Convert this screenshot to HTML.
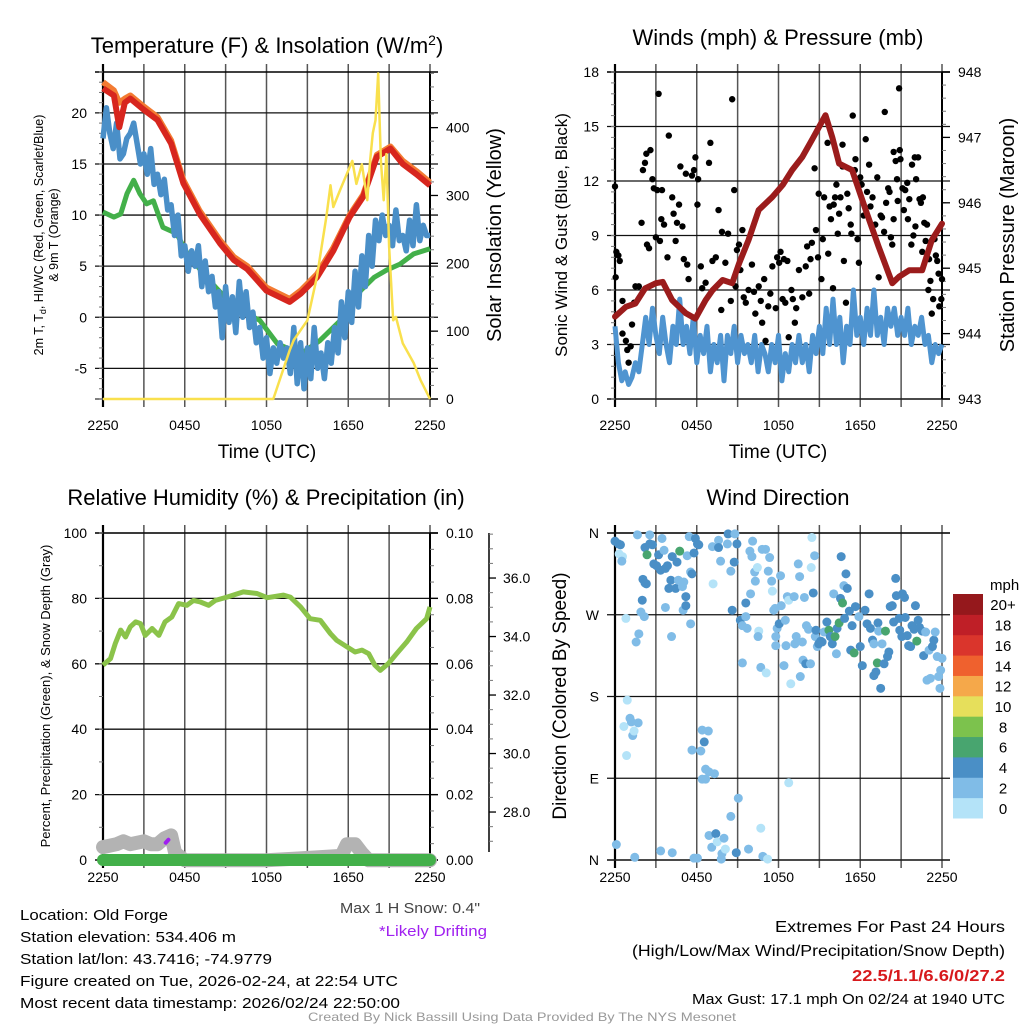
<!DOCTYPE html>
<html><head><meta charset="utf-8"><style>
html,body{margin:0;padding:0;background:#fff}
svg{display:block;font-family:"Liberation Sans",Arial,sans-serif}
</style></head><body>
<svg id="fig" width="1024" height="1024" viewBox="0 0 1024 1024" xmlns="http://www.w3.org/2000/svg">
<rect x="0" y="0" width="1024" height="1024" fill="#fff"/>
<g id="layer"></g>
<text x="267" y="53" font-size="22" text-anchor="middle">Temperature (F) &amp; Insolation (W/m<tspan dy="-8" font-size="14">2</tspan><tspan dy="8">)</tspan></text>
<text x="778" y="45" font-size="22" text-anchor="middle">Winds (mph) &amp; Pressure (mb)</text>
<text x="266" y="505" font-size="22" text-anchor="middle">Relative Humidity (%) &amp; Precipitation (in)</text>
<text x="778" y="505" font-size="22" text-anchor="middle">Wind Direction</text>

<text x="267" y="458" font-size="19" text-anchor="middle">Time (UTC)</text>
<text x="778" y="458" font-size="19" text-anchor="middle">Time (UTC)</text>

<text transform="translate(43,235) rotate(-90)" font-size="12.5" text-anchor="middle">2m T, T<tspan font-size="9" dy="3">d</tspan><tspan dy="-3">, HI/WC (Red, Green, Scarlet/Blue)</tspan></text>
<text transform="translate(58,235) rotate(-90)" font-size="12.5" text-anchor="middle">&amp; 9m T (Orange)</text>
<text transform="translate(501,235) rotate(-90)" font-size="20" text-anchor="middle">Solar Insolation (Yellow)</text>
<text transform="translate(567,235) rotate(-90)" font-size="17" text-anchor="middle">Sonic Wind &amp; Gust (Blue, Black)</text>
<text transform="translate(1014,235) rotate(-90)" font-size="20" text-anchor="middle">Station Pressure (Maroon)</text>
<text transform="translate(50,696) rotate(-90)" font-size="13" text-anchor="middle">Percent, Precipitation (Green), &amp; Snow Depth (Gray)</text>
<text transform="translate(566,696) rotate(-90)" font-size="19" text-anchor="middle">Direction (Colored By Speed)</text>

<text x="990" y="590" font-size="15">mph</text>

<g font-size="15">
<text x="20" y="920" textLength="148" lengthAdjust="spacingAndGlyphs">Location: Old Forge</text>
<text x="20" y="942" textLength="216" lengthAdjust="spacingAndGlyphs">Station elevation: 534.406 m</text>
<text x="20" y="964" textLength="252" lengthAdjust="spacingAndGlyphs">Station lat/lon: 43.7416; -74.9779</text>
<text x="20" y="986" textLength="378" lengthAdjust="spacingAndGlyphs">Figure created on Tue, 2026-02-24, at 22:54 UTC</text>
<text x="20" y="1008" textLength="380" lengthAdjust="spacingAndGlyphs">Most recent data timestamp: 2026/02/24 22:50:00</text>
<text x="480" y="913" text-anchor="end" fill="#444" textLength="140" lengthAdjust="spacingAndGlyphs">Max 1 H Snow: 0.4"</text>
<text x="487" y="936" text-anchor="end" fill="#a020f0" textLength="108" lengthAdjust="spacingAndGlyphs">*Likely Drifting</text>
<text x="1005" y="932" text-anchor="end" font-size="16" textLength="230" lengthAdjust="spacingAndGlyphs">Extremes For Past 24 Hours</text>
<text x="1005" y="956" text-anchor="end" font-size="16" textLength="373" lengthAdjust="spacingAndGlyphs">(High/Low/Max Wind/Precipitation/Snow Depth)</text>
<text x="1005" y="981" text-anchor="end" font-size="16" font-weight="bold" fill="#d7191c" textLength="153" lengthAdjust="spacingAndGlyphs">22.5/1.1/6.6/0/27.2</text>
<text x="1005" y="1004" text-anchor="end" textLength="313" lengthAdjust="spacingAndGlyphs">Max Gust: 17.1 mph On 02/24 at 1940 UTC</text>
<text x="308" y="1021" font-size="12" fill="#999" textLength="428" lengthAdjust="spacingAndGlyphs">Created By Nick Bassill Using Data Provided By The NYS Mesonet</text>
</g>
</svg>
<script>
// ---------- DATA ----------
const xTickLabels = ["2250","0450","1050","1650","2250"];
const tempTicks = [-5,0,5,10,15,20];
const insolTicks = [0,100,200,300,400];
const windTicks = [0,3,6,9,12,15,18];
const presTicks = [943,944,945,946,947,948];
const rhTicks = [0,20,40,60,80,100];
const precipTicks = ["0.00","0.02","0.04","0.06","0.08","0.10"];
const snowTicks = ["28.0","30.0","32.0","34.0","36.0"];
const dirTicks = ["N","E","S","W","N"];

const redHours = [0,0.8,1.2,1.6,2,3,4,5,5.9,7.1,8.6,9.6,10.6,12,13.7,14.5,15.7,16.9,18.1,19.1,20.1,21.1,22,23,24];
const redTemp = [22.4,21.7,18.6,21,21.4,20.3,19.3,17,13.1,10.1,7.2,5.6,4.7,2.6,1.5,2.3,3.9,6.5,9.8,11.8,15.7,16.5,15,14,12.9];
const orangeTemp = [23,22.2,21,21.4,21.7,20.6,19.6,17.3,13.4,10.4,7.5,5.9,5,2.9,1.8,2.6,4.2,6.8,10,12,15.9,16.7,15.3,14.3,13.2];
const greenHours = [0,0.8,1.3,1.76,2.25,2.7,3.2,3.7,4.4,5.4,6.2,7.6,9.6,11.5,12.8,14.5,15.9,17.9,18.9,19.9,20.8,21.8,22.8,24];
const greenTemp = [10.3,9.8,10.1,12.1,13.4,12.1,11.1,11.4,8.8,8.2,6.2,3.9,1,-0.3,-2.6,-3.6,-2.3,0.3,2.6,3.9,4.6,5.2,6.2,6.7];
const blueTemp = [17.5,20.5,18,16.5,19,15.5,16,17.5,
 18,19,17,15, 16,14,16.5,13, 14,12,13.5,10.5, 11,8,10,6, 7,4.5,6.5,5, 7,3,5.5,2.5, 4,1,2.5,-2, 3,-0.5,2,-1.5,
 3.5,0,2.5,-1, 0.5,-2.5,-1,-4, -2,-5.5,-3,-4.5, -2.5,-4,-3,-5.5, -1,-6.5,-2.5,-7, -3,-6,-1,-5, -3.5,-6,-2.5,-4.5,
 -1,-3.5,1.5,-2, 2.5,-0.5,4.5,1, 6,3,8,5, 9.5,7.5,10,8, 9,7,10.5,7.5, 8,6.5,9.5,7, 11,7.5,9,8, 8];
const insolHours = [0,12.5,13.7,14,15,15.7,16.4,16.7,16.9,17.4,17.9,18.3,18.6,19,19.4,19.6,19.8,20.0,20.2,20.3,20.4,20.6,20.8,21.0,21.3,21.5,22,22.8,23.3,24];
const insolVals = [0,0,72,87,116,180,269,315,283,308,332,351,317,346,293,351,392,411,480,411,351,293,361,225,116,121,82,53,28,0];

const windBlue = [4,2,1,1.5,0.8,1.2,2,1.5,
 3,4.5,3,5, 3.5,2.5,4.5,3, 2,4,3,5.5, 3,4,2.5,4.5, 2,3.5,2.5,4, 1.5,3,2,3.5, 1,3.5,2.5,4, 2,3.5,2.5,3,
 2,3.5,1.5,3, 2.5,1.5,3,2, 3.5,1,2.5,1.5, 3,2,3.5,2, 3,1.5,3.5,2.5, 4,2.5,5,3, 5.5,3,4.5,2,
 4,3,6,3.5, 4.5,3,5,3.5, 6,3.5,4.5,3, 5,4,5,3.5, 4.5,3.5,5,3, 4,3.5,4.5,3, 3.5,2,3,2.5, 3];
const presHours = [0,0.8,1.5,2.2,3,3.5,4.2,5.2,5.9,6.65,7.15,7.9,8.6,9.1,9.8,10.55,11.55,12.3,13,13.75,14.5,15.45,15.95,16.45,17.4,18.4,19.35,20.35,20.85,21.6,22.55,23.25,24];
const presVals = [944.26,944.41,944.46,944.69,944.77,944.79,944.51,944.31,944.23,944.51,944.66,944.82,944.77,945.07,945.43,945.89,946.09,946.27,946.5,946.7,946.98,947.34,947.0,946.6,946.5,945.89,945.33,944.77,944.87,944.97,944.97,945.43,945.68];
const gustHours = [0,0.05,0.1,0.25,0.35,0.55,0.55,0.8,0.9,1.0,1.15,1.25,1.4,1.5,1.75,1.95,2.05,2.2,2.3,2.35,2.5,2.6,2.75,2.85,3.0,3.1,3.2,3.3,3.4,3.45,3.6,3.85,3.95,4.2,4.3,4.45,4.55,4.7,4.8,4.95,5.05,5.2,5.3,5.4,5.65,5.8,5.9,6.05,6.1,6.3,6.4,6.65,6.9,7.0,7.15,7.4,7.6,7.8,7.85,8.1,8.3,8.5,8.6,8.75,8.85,8.95,9.1,9.2,9.35,9.45,9.6,9.8,10.05,10.2,10.3,10.55,10.7,10.8,10.95,11.05,11.25,11.4,11.55,11.8,11.9,12.05,12.15,12.3,12.4,12.5,12.65,12.75,12.95,13.05,13.2,13.3,13.5,13.75,14.0,14.1,14.25,14.35,14.45,14.65,14.75,14.9,14.95,15.15,15.25,15.35,15.6,15.65,15.75,15.85,16.0,16.05,16.15,16.25,16.35,16.45,16.55,16.7,16.7,16.8,16.95,17.05,17.15,17.3,17.35,17.45,17.6,17.65,17.8,17.9,18.0,18.1,18.25,18.4,18.5,18.65,18.75,18.9,19.1,19.25,19.35,19.5,19.6,19.75,19.8,19.9,20.05,20.15,20.25,20.35,20.45,20.45,20.6,20.7,20.75,20.85,20.9,20.95,21.1,21.2,21.3,21.45,21.5,21.6,21.75,21.8,21.9,22.0,22.05,22.1,22.25,22.35,22.45,22.55,22.6,22.7,22.8,22.9,23.0,23.05,23.15,23.25,23.35,23.45,23.55,23.65,23.75,23.8,23.95,24.0];
const gustVals = [11.7,6.7,8.1,7.9,7.6,5.4,3.6,3.2,2.7,2.0,2.9,4.1,5.3,6.2,6.2,9.7,12.6,13.0,13.5,8.5,8.3,13.7,12.1,11.6,8.9,11.5,16.8,8.7,9.9,11.5,9.6,7.8,14.5,11.1,10.2,8.7,9.7,10.7,12.8,9.5,7.7,12.4,7.4,6.6,12.3,12.6,13.3,10.7,12.1,7.3,6.1,6.4,13.0,14.1,7.6,7.8,10.4,4.9,9.2,7.5,9.1,5.4,16.5,11.5,6.2,8.2,8.5,7.1,9.3,5.6,5.3,6.0,7.4,5.9,4.7,6.2,5.4,4.2,6.6,3.2,5.1,5.8,7.3,5.0,7.8,7.5,8.1,5.5,7.7,5.3,7.6,3.4,6.0,5.5,4.2,5.0,7.1,5.6,7.3,8.4,5.8,7.7,8.6,12.7,9.3,7.8,11.3,6.6,8.8,11.1,14.1,8.0,10.6,9.9,6.1,10.7,11.1,11.8,9.1,10.2,11.1,14.0,12.8,7.6,5.3,11.3,10.5,9.6,9.1,15.6,12.6,13.2,8.8,7.5,12.2,11.8,10.1,14.3,11.4,12.9,10.6,11.1,9.6,12.2,6.7,10.1,10.0,9.2,15.8,10.8,11.6,11.4,8.9,8.5,9.9,13.6,13.1,12.1,10.9,17.1,13.7,13.2,11.6,10.4,11.5,11.9,9.9,11.0,8.5,12.9,9.0,13.3,9.5,12.1,13.3,11.0,10.8,8.1,11.1,9.7,8.7,9.6,6.0,7.7,6.5,4.7,5.5,8.8,7.9,7.6,6.9,5.1,5.5,6.6];

const rhHours = [0,0.55,0.9,1.3,1.65,2.0,2.4,2.75,3.1,3.6,4.1,4.55,5.05,5.55,6.15,6.65,7.15,7.75,8.25,9.1,10.3,11.3,12.05,13.25,13.75,14.5,15.2,15.95,16.7,17.15,17.9,18.5,19.0,19.5,19.95,20.35,20.95,21.55,22.3,23.0,23.75,24.0];
const rhVals = [59.6,61.6,66.2,70.3,68.2,71.3,72.8,72.3,68.7,70.8,68.7,72.8,74.3,78.4,77.9,79.4,78.9,77.9,79.4,80.4,82,81.5,80.2,81,80.4,77.4,73.8,73.3,69.2,67.2,65.2,63.6,64.2,63.1,59.6,58,60.1,63.1,66.7,70.8,73.8,77.4];
const snowHours = [0,1,1.5,2,3,3.5,4,4.5,5,5.3,6,12,14,17.5,17.9,18.5,19,19.5,24];
const snowVals = [26.8,26.9,27.0,26.9,27.0,26.9,26.9,27.1,27.2,26.6,26.35,26.35,26.4,26.5,26.9,26.9,26.6,26.35,26.35];
const precipHours = [0,24];
const precipVals = [0,0];
const driftHours = [4.6,4.8];
const driftSnow = [26.95,27.05];

const dirHours = [0,0.25,0.4,0.3,0.55,0.5,0.8,0.9,0.65,0.85,1.1,1.2,1.3,1.4,1.7,1.55,1.75,1.9,2.0,2.05,2.2,2.3,2.15,2.2,2.35,2.55,1.65,2.55,2.75,2.85,3.05,3.2,3.35,3.45,3.6,3.7,3.85,3.95,4.1,4.2,4.45,4.55,4.65,4.75,4.95,5.0,5.05,5.2,5.2,5.3,5.45,5.55,5.65,5.8,5.9,6.05,6.15,5.55,4.15,3.7,6.05,5.8,5.65,6.3,6.4,6.85,6.55,6.65,6.9,7.3,6.4,6.65,7.15,7.2,7.6,7.6,7.75,8.25,8.3,8.5,8.6,8.75,8.8,8.95,9.2,9.35,9.6,9.7,9.35,9.6,9.95,9.9,10.05,10.1,10.25,10.3,10.45,10.55,10.5,10.7,10.8,11.05,11.1,11.25,11.35,11.5,11.55,11.65,11.75,11.8,11.8,11.9,12.05,12.15,12.2,12.4,12.5,12.55,12.65,12.75,12.9,12.75,13.15,13.2,13.3,13.45,13.55,13.6,13.75,13.8,13.9,14.0,14.05,14.2,14.35,14.4,14.45,14.55,14.65,14.7,14.75,14.85,14.95,15.1,15.2,15.35,15.55,15.7,15.8,15.95,16.05,16.15,16.25,16.3,16.45,16.55,16.6,16.7,16.8,16.85,16.95,17.05,17.2,17.3,17.4,17.55,17.65,17.9,18.0,18.15,18.35,18.5,18.65,18.75,18.9,19.0,19.0,19.15,19.25,19.3,19.35,19.5,19.6,19.75,19.85,20.0,20.1,20.2,20.35,20.45,20.6,20.65,20.85,20.9,21.05,21.1,21.25,21.3,21.45,21.55,21.7,21.8,21.95,22.05,22.15,22.25,22.35,22.55,22.65,22.8,22.9,23.05,23.15,23.3,23.4,23.5,23.65,23.75,23.9,24.0,23.85,0.1,1.45,3.35,4.2,6.9,7.1,7.4,7.5,7.85,8.0,7.8,8.1,8.5,8.9,9.05,9.8,10.7,10.85,11.2];
const dirDeg = [351,348,347,337,334,329,266,176,147,115,156,152,137,142,151,240,249,273,286,309,305,304,268,344,336,348,358,358,347,326,324,336,319,354,341,321,324,299,308,334,299,328,308,340,301,275,306,290,280,335,356,317,315,338,354,348,347,260,246,278,2,2,121,120,143,142,130,100,97,95,89,89,345,304,352,344,329,348,359,318,275,328,359,348,264,258,268,255,217,283,293,340,334,351,317,307,322,252,246,212,342,342,206,318,333,307,296,275,277,246,236,255,260,313,280,214,264,236,290,286,194,85,290,238,246,326,312,202,240,220,289,216,258,254,216,322,355,294,335,246,253,235,238,241,240,251,262,253,246,238,293,246,227,255,261,288,334,283,302,266,315,299,274,231,258,228,279,268,235,214,275,260,293,255,242,238,203,207,217,261,252,189,238,216,252,224,229,279,280,262,310,291,266,253,246,293,289,267,247,236,235,258,254,280,241,264,256,252,225,251,198,231,200,235,242,251,224,202,209,222,189,17,3,10,8,27,14,29,20,7,24,1,12,48,8,68,12,35,4,1];
const dirSpeed = [5,5,5,1,1,3,1,1,1,1,3,3,3,1,3,3,3,3,5,5,5,5,3,5,7,5,3,3,5,5,5,5,5,3,3,5,5,5,5,5,5,5,3,7,3,3,3,5,5,3,3,3,5,5,5,5,5,3,3,3,3,3,3,3,3,3,5,3,3,3,3,3,3,1,3,5,3,3,5,3,5,5,3,5,5,3,3,3,3,5,3,3,3,3,3,3,1,1,3,3,3,3,1,3,3,3,1,3,3,3,3,3,5,3,3,3,3,3,3,1,1,1,3,3,3,3,3,3,3,3,3,5,3,3,3,1,1,5,3,3,5,3,5,5,5,3,5,7,5,5,3,7,3,5,7,5,5,7,3,5,5,5,5,5,5,7,5,3,5,5,5,5,5,5,5,3,5,5,7,5,3,5,3,5,7,5,5,5,5,5,5,5,5,5,5,5,5,5,5,5,5,5,5,5,7,5,5,5,5,3,3,3,3,5,5,3,3,3,3,3,3,3,3,3,3,3,3,5,1,3,3,3,1,3,5,3,3,1,3,1,1];
const cbLabels = ["0","2","4","6","8","10","12","14","16","18","20+"];
const cbColors = ["#b4e3f8","#80bce7","#4a8fc6","#48a56f","#7cc24d","#e6df5b","#f5a84a","#ef612e","#da352c","#bf1f27","#95181c"];

// ---------- RENDER ----------
const NS = "http://www.w3.org/2000/svg";
const layer = document.getElementById("layer");
function mk(tag, attrs, parent) {
  const e = document.createElementNS(NS, tag);
  for (const k in attrs) e.setAttribute(k, attrs[k]);
  (parent || layer).appendChild(e);
  return e;
}
const P1 = {x0:103,x1:430,y0:72,y1:399};
const P2 = {x0:615,x1:942,y0:72,y1:399};
const P3 = {x0:103,x1:430,y0:533,y1:860};
const P4 = {x0:615,x1:942,y0:533,y1:860};
function xs(P, h){ return P.x0 + h/24*(P.x1-P.x0); }
function ys(P, v, lo, hi){ return P.y1 - (v-lo)/(hi-lo)*(P.y1-P.y0); }

function frame(P, name, lo, hi, leftTicks, leftLabels, minorStep, xLabelY) {
  const g = mk("g", {});
  
  
  for (let i = 0; i <= 8; i++) {
    const x = P.x0 + i*(P.x1-P.x0)/8;
    const l = mk("line", {x1:x, x2:x, y1:P.y0-8, y2:P.y1+8, stroke: (i===0)?"#000":"#555", "stroke-width": (i===0)?2.2:1.5}, g);
    
    
  }
  for (let i = 0; i < xTickLabels.length; i++) {
    const t = mk("text", {x: P.x0 + i*(P.x1-P.x0)/4, y: xLabelY, "font-size": 14, "text-anchor": "middle"}, g);
    t.textContent = xTickLabels[i];
    
    
  }
  mk("line", {x1:P.x0-8, x2:P.x1+8, y1:P.y0, y2:P.y0, stroke:"#000", "stroke-width":1.5}, g);
  mk("line", {x1:P.x0-8, x2:P.x1+8, y1:P.y1, y2:P.y1, stroke:"#555", "stroke-width":1.5}, g);
  for (let i = 0; i < leftTicks.length; i++) {
    const y = ys(P, leftTicks[i], lo, hi);
    mk("line", {x1:P.x0-8, x2:P.x1+8, y1:y, y2:y, stroke:"#111", "stroke-width":1.3}, g);
    const t = mk("text", {x: P.x0-16, y: y+5, "font-size": 14, "text-anchor": "end"}, g);
    t.textContent = leftLabels[i];
    
    
  }
  if (minorStep) {
    for (let v = lo; v <= hi + 1e-9; v += minorStep) {
      const y = ys(P, v, lo, hi);
      mk("line", {x1:P.x0-4, x2:P.x0, y1:y, y2:y, stroke:"#777", "stroke-width":1}, g);
    }
  }
  return g;
}
function rightAxis(P, name, lo, hi, ticks, labels, minorStep) {
  const g = mk("g", {});
  
  
  const ax = P.x1;
  mk("line", {x1:ax, x2:ax, y1:P.y0, y2:P.y1, stroke:"#000", "stroke-width":2}, g);
  for (let v = lo; v <= hi + 1e-9; v += minorStep) {
    const y = ys(P, v, lo, hi);
    mk("line", {x1:ax, x2:ax+4, y1:y, y2:y, stroke:"#777", "stroke-width":1}, g);
  }
  for (let i = 0; i < ticks.length; i++) {
    const y = ys(P, ticks[i], lo, hi);
    mk("line", {x1:ax, x2:ax+8, y1:y, y2:y, stroke:"#000", "stroke-width":1.3}, g);
    const t = mk("text", {x: ax+16, y: y+5, "font-size": 14}, g);
    t.textContent = labels[i];
    
    
  }
}
function path(P, hours, vals, lo, hi) {
  let d = "";
  for (let i = 0; i < vals.length; i++) d += (i?"L":"M") + xs(P, hours[i]).toFixed(1) + " " + ys(P, vals[i], lo, hi).toFixed(1);
  return d;
}
function qHours(n){ const a=[]; for(let i=0;i<n;i++) a.push(i*24/(n-1)); return a; }

// Panel 1: temperature
frame(P1, "temp", -8, 24, tempTicks, tempTicks.map(String), 1, 430);
rightAxis(P1, "insolation-axis", 0, 482, insolTicks, insolTicks.map(String), 20);
let e;
e = mk("path", {d: path(P1, greenHours, greenTemp, -8, 24), fill:"none", stroke:"#43b04a", "stroke-width":5, "stroke-linejoin":"round"});
 
e = mk("path", {d: path(P1, qHours(blueTemp.length), blueTemp, -8, 24), fill:"none", stroke:"#4a8fc8", "stroke-width":5.5, "stroke-linejoin":"round"});
 
e = mk("path", {d: path(P1, redHours, orangeTemp, -8, 24), fill:"none", stroke:"#f37b32", "stroke-width":6, "stroke-linejoin":"round"});
 
e = mk("path", {d: path(P1, redHours, redTemp, -8, 24), fill:"none", stroke:"#d7261e", "stroke-width":6, "stroke-linejoin":"round"});
 
e = mk("path", {d: path(P1, insolHours, insolVals, 0, 482), fill:"none", stroke:"#f9e04d", "stroke-width":2.5, "stroke-linejoin":"round"});
 

// Panel 2: wind
frame(P2, "wind", 0, 18, windTicks, windTicks.map(String), 0.6, 430);
rightAxis(P2, "pressure-axis", 943, 948, presTicks, presTicks.map(String), 0.2);
e = mk("path", {d: path(P2, qHours(windBlue.length), windBlue, 0, 18), fill:"none", stroke:"#4f94d0", "stroke-width":5, "stroke-linejoin":"round"});
 
for (let i = 0; i < gustVals.length; i++) {
  const c = mk("circle", {cx: xs(P2, gustHours[i]), cy: ys(P2, gustVals[i], 0, 18), r: 3.2, fill: "#000"});
  
  
}
e = mk("path", {d: path(P2, presHours, presVals, 943, 948), fill:"none", stroke:"#9b1c1c", "stroke-width":6, "stroke-linejoin":"round", "stroke-linecap":"round"});
 

// Panel 3: RH
frame(P3, "rh", 0, 100, rhTicks, rhTicks.map(String), 10, 882);
rightAxis(P3, "precip-axis", 0, 100, rhTicks, precipTicks, 5);
{
  const g = mk("g", {});
  
  
  mk("line", {x1:489, x2:489, y1:P3.y0, y2:P3.y1-8, stroke:"#000", "stroke-width":1.5}, g);
  for (let v = 26.5; v <= 37.5; v += 0.5) {
    const y = P3.y1 - (v-26.36)*29.25;
    if (y < P3.y0 || y > P3.y1-8) continue;
    mk("line", {x1:489, x2:493, y1:y, y2:y, stroke:"#777", "stroke-width":1}, g);
  }
  for (let i = 0; i < snowTicks.length; i++) {
    const y = P3.y1 - (parseFloat(snowTicks[i])-26.36)*29.25;
    mk("line", {x1:489, x2:496, y1:y, y2:y, stroke:"#000", "stroke-width":1.3}, g);
    const t = mk("text", {x:503, y:y+5, "font-size":14}, g);
    t.textContent = snowTicks[i];
    
    
  }
  let d = "";
  for (let i = 0; i < snowVals.length; i++) d += (i?"L":"M") + xs(P3, snowHours[i]).toFixed(1) + " " + (P3.y1 - (snowVals[i]-26.36)*29.25).toFixed(1);
  e = mk("path", {d: d, fill:"none", stroke:"#b3b3b3", "stroke-width":14, "stroke-linejoin":"round", "stroke-linecap":"round"});
   
  d = "";
  for (let i = 0; i < driftSnow.length; i++) d += (i?"L":"M") + xs(P3, driftHours[i]).toFixed(1) + " " + (P3.y1 - (driftSnow[i]-26.36)*29.25).toFixed(1);
  e = mk("path", {d: d, fill:"none", stroke:"#a020f0", "stroke-width":4, "stroke-linecap":"round"});
   
}
e = mk("path", {d: path(P3, precipHours, precipVals, 0, 100), fill:"none", stroke:"#43b04a", "stroke-width":12, "stroke-linecap":"round"});
 
e = mk("path", {d: path(P3, rhHours, rhVals, 0, 100), fill:"none", stroke:"#8bc34a", "stroke-width":5, "stroke-linejoin":"round"});
 

// Panel 4: direction
frame(P4, "direction", 0, 360, [0,90,180,270,360], dirTicks, 0, 882);
function speedColor(s){ const k = Math.min(10, Math.floor(s/2)); return cbColors[k]; }
for (let i = 0; i < dirDeg.length; i++) {
  const c = mk("circle", {cx: xs(P4, dirHours[i]), cy: ys(P4, dirDeg[i], 0, 360), r: 4.5, fill: speedColor(dirSpeed[i])});
  
  
}
for (let i = 0; i < cbColors.length; i++) {
  const h = 224/11;
  const y = 818 - (i+1)*h;
  const r = mk("rect", {x:953, y:y, width:30, height:h+0.5, fill:cbColors[i]});
  
  
  const t = mk("text", {x:1003, y:y+h/2+6, "font-size":15, "text-anchor":"middle"});
  t.textContent = cbLabels[i];
  
  
}
</script>
</body></html>
